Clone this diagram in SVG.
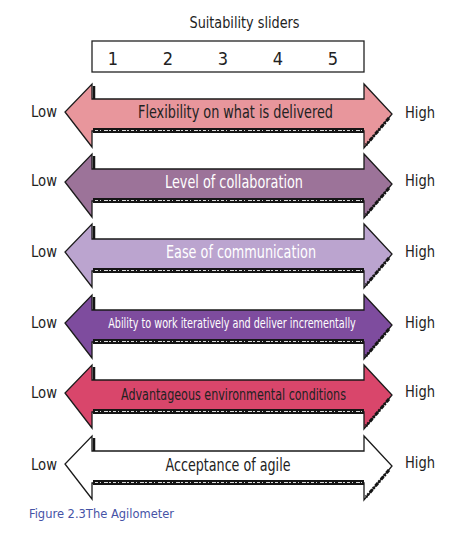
<svg xmlns="http://www.w3.org/2000/svg" width="455" height="536" viewBox="0 0 455 536">
<style>
.lbl{font-family:"Liberation Sans Narrow","DejaVu Sans Condensed","Liberation Sans",sans-serif;fill:#222}
.side{font-size:16px}
.atext{font-size:17px;text-anchor:middle}
.body{stroke:#1a1a1a;stroke-width:1.3;stroke-linejoin:miter}
.band{fill:#151515}
.tex{stroke:#ddd;stroke-width:1;stroke-dasharray:3 2 1 3 4 1 2 2;fill:none}
.edge{stroke:#151515;stroke-width:2.5}
.shadow{stroke:#151515;stroke-width:3;stroke-dasharray:4 1.5 2 1}
</style>
<defs>
<g id="arrowShape">
<path class="body" d="M92,15 V0 L65,28 L92,63 V47 H364 V64 L392,30 L364,0 V15 Z"/>
<rect class="band" x="93" y="44" width="271" height="5"/>
<line class="tex" x1="95" y1="46.5" x2="362" y2="46.5"/>
<line class="edge" x1="94" y1="2" x2="94" y2="15"/>
<line class="shadow" x1="389" y1="34" x2="366" y2="61"/>
</g>
</defs>

<g id="header">
<text class="lbl" x="244.5" y="28" font-size="16" text-anchor="middle" textLength="110" lengthAdjust="spacingAndGlyphs">Suitability sliders</text>
<rect x="92" y="41" width="272" height="31" fill="#fff" stroke="#222" stroke-width="1.3"/>
<g class="lbl" font-size="18" text-anchor="middle">
<text x="113" y="65">1</text>
<text x="168" y="65">2</text>
<text x="223" y="65">3</text>
<text x="278" y="65">4</text>
<text x="333" y="65">5</text>
</g>
</g>

<g id="arrow1" transform="translate(0,84)">
<use href="#arrowShape" fill="#E8969C"/>
<text class="lbl atext" x="235.5" y="34" textLength="195" lengthAdjust="spacingAndGlyphs" fill="#2a2a2a">Flexibility on what is delivered</text>
<text class="lbl side" x="31" y="33" textLength="26" lengthAdjust="spacingAndGlyphs">Low</text>
<text class="lbl side" x="405" y="34" textLength="30" lengthAdjust="spacingAndGlyphs">High</text>
</g>

<g id="arrow2" transform="translate(0,154)">
<use href="#arrowShape" fill="#9C7399"/>
<text class="lbl atext" x="234" y="34" textLength="138" lengthAdjust="spacingAndGlyphs" style="fill:#fff">Level of collaboration</text>
<text class="lbl side" x="31" y="32" textLength="26" lengthAdjust="spacingAndGlyphs">Low</text>
<text class="lbl side" x="405" y="32" textLength="30" lengthAdjust="spacingAndGlyphs">High</text>
</g>

<g id="arrow3" transform="translate(0,224)">
<use href="#arrowShape" fill="#BBA4CF"/>
<text class="lbl atext" x="241" y="34" textLength="150" lengthAdjust="spacingAndGlyphs" style="fill:#fff">Ease of communication</text>
<text class="lbl side" x="31" y="33" textLength="26" lengthAdjust="spacingAndGlyphs">Low</text>
<text class="lbl side" x="405" y="33" textLength="30" lengthAdjust="spacingAndGlyphs">High</text>
</g>

<g id="arrow4" transform="translate(0,295)">
<use href="#arrowShape" fill="#7E4C9E"/>
<text class="lbl atext" transform="translate(232,33) scale(0.65,1)" x="0" y="0" style="font-size:14.5px;fill:#fff" textLength="381" lengthAdjust="spacingAndGlyphs">Ability to work iteratively and deliver incrementally</text>
<text class="lbl side" x="31" y="33" textLength="26" lengthAdjust="spacingAndGlyphs">Low</text>
<text class="lbl side" x="405" y="33" textLength="30" lengthAdjust="spacingAndGlyphs">High</text>
</g>

<g id="arrow5" transform="translate(0,365)">
<use href="#arrowShape" fill="#D9466B"/>
<text class="lbl atext" x="233.5" y="35" style="font-size:15.5px" textLength="225" lengthAdjust="spacingAndGlyphs" fill="#2a2a2a">Advantageous environmental conditions</text>
<text class="lbl side" x="31" y="33" textLength="26" lengthAdjust="spacingAndGlyphs">Low</text>
<text class="lbl side" x="405" y="32" textLength="30" lengthAdjust="spacingAndGlyphs">High</text>
</g>

<g id="arrow6" transform="translate(0,436)">
<use href="#arrowShape" fill="#ffffff"/>
<text class="lbl atext" x="228" y="35" textLength="125" lengthAdjust="spacingAndGlyphs">Acceptance of agile</text>
<text class="lbl side" x="31" y="34" textLength="26" lengthAdjust="spacingAndGlyphs">Low</text>
<text class="lbl side" x="405" y="32" textLength="30" lengthAdjust="spacingAndGlyphs">High</text>
</g>

<g id="caption">
<text x="29" y="518" font-family="Liberation Sans Narrow, DejaVu Sans Condensed, Liberation Sans, sans-serif" font-size="13" fill="#4653A6" textLength="145" lengthAdjust="spacingAndGlyphs">Figure 2.3The Agilometer</text>
</g>
</svg>
